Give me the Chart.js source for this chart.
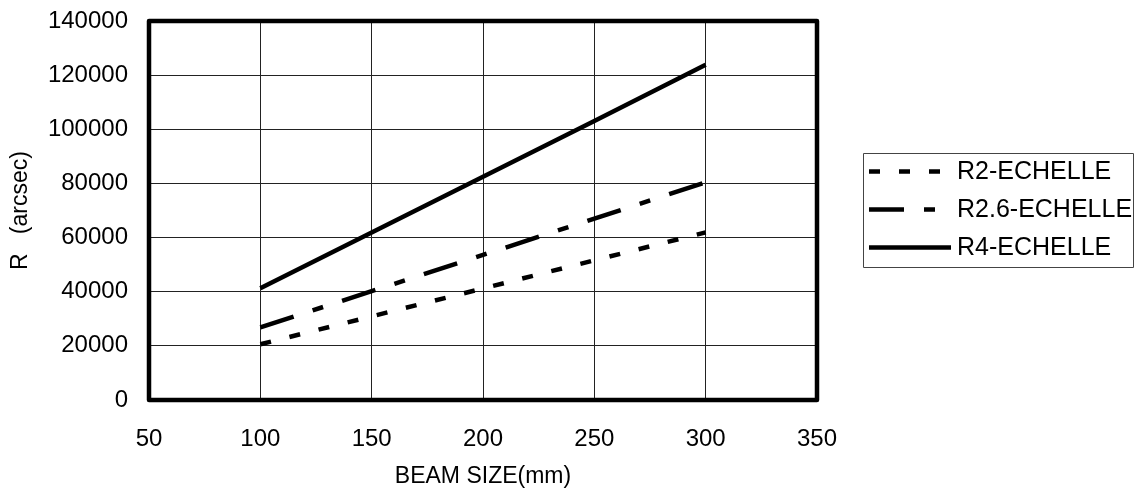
<!DOCTYPE html>
<html>
<head>
<meta charset="utf-8">
<script src="https://cdn.jsdelivr.net/npm/chart.js@4/dist/chart.umd.min.js"></script>
<style>
  html, body { margin: 0; padding: 0; background: #fff; }
  #wrap { width: 1136px; height: 491px; }
</style>
</head>
<body>
<div id="wrap"><canvas id="myChart"></canvas></div>
<script>
// beam size along the x-axis (mm)
var beamSize = [100, 150, 200, 250, 300];
// R values
var r2 = [20600, 30900, 41200, 51600, 61900];
var r26 = [26800, 40200, 53600, 67000, 80400];
var r4 = [41300, 61900, 82500, 103100, 123800];

function pts(vals) {
  return vals.map(function (v, i) { return { x: beamSize[i], y: v }; });
}

Chart.defaults.font.family = "'Liberation Sans', Arial, sans-serif";
Chart.defaults.color = "#000";

// thick frame round the plot, plus the boxed legend on the right
var frames = {
  id: 'frames',
  afterDraw: function (chart) {
    var c = chart.ctx, a = chart.chartArea;
    c.save();
    c.strokeStyle = '#000';
    c.lineWidth = 4.5;
    c.lineJoin = 'round';
    c.strokeRect(a.left, a.top, a.right - a.left, a.bottom - a.top);

    // legend
    var boxL = a.right + 46, boxR = chart.width - 3;
    var rowGap = 38, n = chart.data.datasets.length;
    var midY = (a.top + a.bottom) / 2 - 1;
    var boxT = Math.round(midY - rowGap * n / 2) + 0.5;
    var boxB = Math.round(midY + rowGap * n / 2) + 0.5;
    c.lineWidth = 1;
    c.strokeStyle = '#444';
    c.strokeRect(Math.round(boxL) + 0.5, boxT, Math.round(boxR - boxL), boxB - boxT);
    c.font = "25px 'Liberation Sans', Arial, sans-serif";
    c.fillStyle = '#000';
    c.textBaseline = 'middle';
    chart.data.datasets.forEach(function (ds, i) {
      var y = midY - rowGap * (n - 1) / 2 + i * rowGap;
      c.beginPath();
      c.strokeStyle = '#000';
      c.lineWidth = 4.5;
      c.setLineDash(ds.borderDash || []);
      c.moveTo(boxL + 6, y);
      c.lineTo(boxL + 88, y);
      c.stroke();
      c.setLineDash([]);
      c.fillText(ds.label, boxL + 94, y + 1);
    });
    c.restore();
  }
};

var ctx = document.getElementById("myChart");
var myChart = new Chart(ctx, {
  type: 'line',
  data: {
    datasets: [
      {
        data: pts(r2),
        label: "R2-ECHELLE",
        borderColor: "#000",
        borderWidth: 4.5,
        borderDash: [11, 19],
        pointRadius: 0,
        fill: false
      },
      {
        data: pts(r26),
        label: "R2.6-ECHELLE",
        borderColor: "#000",
        borderWidth: 4.5,
        borderDash: [35, 20, 11, 20],
        pointRadius: 0,
        fill: false
      },
      {
        data: pts(r4),
        label: "R4-ECHELLE",
        borderColor: "#000",
        borderWidth: 4.5,
        pointRadius: 0,
        fill: false
      }
    ]
  },
  options: {
    responsive: true,
    maintainAspectRatio: false,
    animation: false,
    layout: { padding: { left: 4, top: 21, right: 319, bottom: 0 } },
    plugins: {
      tooltip: { enabled: false },
      legend: { display: false }
    },
    scales: {
      x: {
        type: 'linear',
        min: 50,
        max: 350,
        ticks: { stepSize: 50, padding: 25, font: { size: 24 } },
        grid: { color: '#222', lineWidth: 1, drawTicks: false },
        border: { display: false },
        title: { display: true, text: 'BEAM SIZE(mm)', font: { size: 23 }, padding: { top: 2, bottom: 1 } },
        afterFit: function (s) { s.height = 91; s.paddingLeft = 0; s.paddingRight = 0; }
      },
      y: {
        min: 0,
        max: 140000,
        ticks: { stepSize: 20000, padding: 21, font: { size: 24 }, callback: function (v) { return String(v); } },
        grid: { color: '#222', lineWidth: 1, drawTicks: false },
        border: { display: false },
        title: { display: true, text: 'R   (arcsec)', font: { size: 23 }, padding: { top: 3, bottom: 2 } },
        afterFit: function (s) { s.width = 145; s.paddingTop = 0; s.paddingBottom = 0; }
      }
    }
  },
  plugins: [frames]
});
</script>
</body>
</html>
